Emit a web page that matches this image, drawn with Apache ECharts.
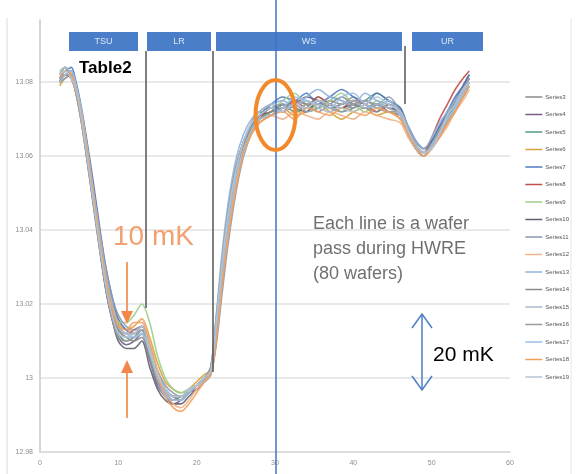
<!DOCTYPE html>
<html><head><meta charset="utf-8">
<script src="https://cdn.jsdelivr.net/npm/echarts@6/dist/echarts.min.js"></script>
<style>html,body{margin:0;padding:0;background:#fff}#c{width:580px;height:474px}</style>
</head><body><div id="c"></div>
<script>
// Time axis (x) positions of the samples
const xSamples = [2.5,3.2,4,4.6,5.3,6,6.8,7.6,8.4,9.2,10,11,12,13,14,15,16,17,18,19,20,21,21.8,22.5,23.2,24,25,26,27,28,29.5,31,32.5,34,35.5,37,38.5,40,41.5,43,44.5,46,47,48,49,50,51,52,53,54,54.8];
// Temperature readings, in mK above 13 K (value = 13 K + reading / 1000)
const BASE_K = 13;
const series3  = [80,82,83,79,72,63,52,40,29,20,14,12,12,14,9,2,-3,-5,-6,-4,-2,-1,1,10,24,39,53,62,67,70,72,73,75,74,73,75,74,76,74,73,75,71,66,62,61,63,66,70,73,77,80];
const series4  = [82,84,81,77,69,59,47,35,24,16,11,9,10,12,5,-2,-5,-7,-6,-4,-3,-1,1,12,27,41,54,62,67,71,73,72,74,76,75,73,74,75,73,74,72,71,68,64,62,64,68,71,75,79,82];
const series5  = [81,83,82,78,70,60,48,36,25,17,12,10,11,13,6,0,-4,-6,-5,-4,-2,0,3,16,31,45,57,64,69,72,71,74,72,73,76,74,72,73,75,77,75,73,67,63,61,64,67,72,75,78,80];
const series6  = [79,81,82,78,71,62,51,39,28,20,15,13,14,16,11,4,-1,-3,-4,-3,-1,1,2,11,26,40,53,62,66,69,71,73,71,72,74,72,70,72,73,71,72,70,66,62,60,63,65,69,72,76,79];
const series7  = [82,83,84,80,73,64,53,41,30,22,16,13,12,13,8,1,-3,-5,-5,-3,-2,0,2,13,29,43,56,64,68,71,74,76,75,77,74,76,78,76,74,77,75,73,68,64,62,64,68,72,76,79,82];
const series8  = [80,82,81,77,70,61,50,38,27,19,14,12,13,14,8,1,-3,-5,-5,-4,-2,0,2,14,29,43,56,63,67,70,73,72,75,73,76,74,73,75,74,72,74,71,67,63,61,65,70,74,78,81,83];
const series9  = [83,84,82,79,72,62,50,38,27,19,15,15,17,20,15,6,0,-3,-4,-3,-2,0,2,12,27,41,54,62,67,70,72,75,77,74,73,75,77,74,72,75,73,72,67,62,61,63,67,71,74,77,80];
const series10 = [81,82,83,78,70,60,48,36,24,16,10,8,8,10,3,-3,-6,-7,-7,-5,-3,-1,1,15,30,44,56,63,68,71,72,74,73,72,75,74,73,74,73,74,73,72,66,62,60,63,66,70,74,78,81];
const series11 = [80,81,82,78,71,62,51,40,30,22,17,14,13,14,9,2,-2,-4,-5,-4,-2,-1,1,9,22,36,50,60,66,69,71,73,74,72,73,76,75,73,75,74,76,72,66,62,61,62,66,69,73,76,79];
const series12 = [82,83,81,77,69,60,49,37,26,18,13,12,14,16,10,2,-4,-7,-8,-6,-3,-1,1,11,25,39,52,61,66,69,71,70,72,71,70,72,71,70,72,71,70,69,65,62,60,62,65,68,72,75,78];
const series13 = [81,82,83,79,72,62,50,38,27,19,13,11,11,12,6,-1,-5,-6,-6,-4,-2,0,3,17,33,47,59,66,70,72,74,75,73,76,78,76,75,74,77,75,74,72,68,64,62,65,69,72,75,78,81];
const series14 = [80,83,82,78,70,61,49,37,26,18,13,11,10,11,5,-1,-4,-6,-6,-4,-2,0,2,13,28,42,55,63,68,70,72,73,75,74,72,74,76,74,73,72,74,72,67,62,60,63,66,70,74,77,80];
const series15 = [82,84,82,78,71,61,49,37,27,19,14,12,12,13,7,1,-3,-5,-5,-4,-2,0,2,14,29,44,56,64,69,72,74,73,74,75,73,72,74,75,73,74,73,71,66,62,61,63,67,70,73,77,79];
const series16 = [81,82,82,77,69,59,47,35,24,16,11,10,11,13,7,0,-4,-6,-6,-4,-2,0,3,16,31,45,57,64,68,71,73,74,72,74,75,73,72,74,75,73,72,72,67,63,61,63,67,71,74,78,81];
const series17 = [80,82,83,79,72,63,51,39,28,20,14,12,11,12,7,0,-4,-6,-6,-4,-2,-1,1,12,27,41,54,62,67,70,71,73,76,75,74,73,76,77,74,73,75,71,66,62,60,63,66,70,73,77,80];
const series18 = [81,83,82,78,71,62,50,38,27,19,14,13,15,15,9,1,-5,-8,-9,-7,-4,-1,1,10,24,38,51,61,66,69,71,72,70,73,72,71,73,72,71,73,72,70,66,62,60,62,65,69,72,76,79];
const series19 = [82,83,81,78,70,60,48,36,25,17,12,11,12,14,8,1,-3,-5,-5,-3,-2,0,2,15,30,44,56,64,69,71,73,72,74,73,75,74,73,72,74,76,74,72,67,63,61,62,66,71,74,78,80];

const seriesNames = ['Series3','Series4','Series5','Series6','Series7','Series8','Series9','Series10','Series11','Series12','Series13','Series14','Series15','Series16','Series17','Series18','Series19'];
const seriesData = [series3,series4,series5,series6,series7,series8,series9,series10,series11,series12,series13,series14,series15,series16,series17,series18,series19];
const seriesColors = ['#8c8c8c','#7a5c86','#4f9a86','#d8a23a','#4f78c0','#c0504d','#9bcf8a','#5f5f70','#8a9ab0','#f0b38a','#8fb4dc','#8c8c8c','#a9b8c8','#9a9a9a','#9cc0e4','#f29f5c','#b5c5d5'];

const xTicks = {min: 0, max: 60, interval: 10};
const yTicks = {min: 12.98, max: 13.0968, interval: 0.02};
const phaseNames = ['TSU','LR','WS','UR'];

const chart = echarts.init(document.getElementById('c'), null, {renderer: 'canvas'});

const series = seriesData.map((arr, i) => ({
  name: seriesNames[i],
  type: 'line',
  data: arr.map((v, j) => [xSamples[j], BASE_K + v / 1000]),
  symbol: 'none',
  smooth: 0.3,
  lineStyle: {width: 1.6, color: seriesColors[i], opacity: 0.9},
  itemStyle: {color: seriesColors[i]},
  z: 2
}));

const phaseRects = [[69,138],[147,211],[216,402],[412,483]];
const graphics = [];
// outer frame lines
graphics.push({type:'line', shape:{x1:7,y1:18,x2:7,y2:474}, style:{stroke:'#d9d9d9', lineWidth:1}, z:1});
graphics.push({type:'line', shape:{x1:571,y1:18,x2:571,y2:474}, style:{stroke:'#e6e6e6', lineWidth:1}, z:1});
phaseNames.forEach((n, i) => {
  const [a, b] = phaseRects[i];
  graphics.push({type:'rect', shape:{x:a, y:32, width:b-a, height:19}, style:{fill:'#4a7ec8'}, z:10});
  graphics.push({type:'text', x:(a+b)/2, y:41.5, style:{text:n, fill:'#dce6f4', font:'9px "Liberation Sans"', align:'center', verticalAlign:'middle'}, z:11});
});
// phase separators
graphics.push({type:'line', shape:{x1:146,y1:51,x2:146,y2:308}, style:{stroke:'#555', lineWidth:1.5}, z:9});
graphics.push({type:'line', shape:{x1:213,y1:51,x2:213,y2:372}, style:{stroke:'#555', lineWidth:1.5}, z:9});
graphics.push({type:'line', shape:{x1:405,y1:46,x2:405,y2:104}, style:{stroke:'#555', lineWidth:1.5}, z:9});
// Table2
graphics.push({type:'text', x:79, y:68, style:{text:'Table2', fill:'#000', font:'bold 17px "Liberation Sans"', verticalAlign:'middle'}, z:12});
// blue vertical line
graphics.push({type:'line', shape:{x1:276,y1:0,x2:276,y2:474}, style:{stroke:'#4472c4', lineWidth:1.5}, z:12});
// orange ellipse
graphics.push({type:'ellipse', shape:{cx:275.5, cy:115, rx:20, ry:35}, style:{fill:'none', stroke:'#f28a2c', lineWidth:4}, z:13});
// 10 mK
graphics.push({type:'text', x:113, y:237, style:{text:'10 mK', fill:'#f2a070', font:'28px "Liberation Sans"', verticalAlign:'middle'}, z:12});
// orange arrows
graphics.push({type:'line', shape:{x1:127,y1:262,x2:127,y2:314}, style:{stroke:'#f39a66', lineWidth:2}, z:12});
graphics.push({type:'polygon', shape:{points:[[121,311],[133,311],[127,324]]}, style:{fill:'#f3874b'}, z:12});
graphics.push({type:'line', shape:{x1:127,y1:418,x2:127,y2:370}, style:{stroke:'#f39a66', lineWidth:2}, z:12});
graphics.push({type:'polygon', shape:{points:[[121,373],[133,373],[127,360]]}, style:{fill:'#f3874b'}, z:12});
// explanatory text
graphics.push({type:'text', x:313, y:212, style:{text:'Each line is a wafer\npass during HWRE\n(80 wafers)', fill:'#707070', font:'18px "Liberation Sans"', lineHeight:25}, z:12});
// blue double arrow
graphics.push({type:'line', shape:{x1:422,y1:314,x2:422,y2:390}, style:{stroke:'#4a7ec8', lineWidth:1.5}, z:12});
graphics.push({type:'polyline', shape:{points:[[412,328],[422,314],[432,328]]}, style:{stroke:'#4a7ec8', lineWidth:1.5, fill:'none'}, z:12});
graphics.push({type:'polyline', shape:{points:[[412,376],[422,390],[432,376]]}, style:{stroke:'#4a7ec8', lineWidth:1.5, fill:'none'}, z:12});
graphics.push({type:'text', x:433, y:355, style:{text:'20 mK', fill:'#000', font:'21px "Liberation Sans"', verticalAlign:'middle'}, z:12});

chart.setOption({
  animation: false,
  backgroundColor: '#ffffff',
  grid: {left: 40, right: 70, top: 20, bottom: 22, containLabel: false},
  xAxis: {
    type: 'value', min: xTicks.min, max: xTicks.max, interval: xTicks.interval,
    axisLine: {show: true, lineStyle: {color: '#d9d9d9', width: 1.5}},
    axisTick: {show: false},
    splitLine: {show: false},
    axisLabel: {color: '#8c8c8c', fontSize: 7, margin: 8, fontFamily: 'Liberation Sans'}
  },
  yAxis: {
    type: 'value', min: yTicks.min, max: yTicks.max, interval: yTicks.interval,
    axisLine: {show: true, lineStyle: {color: '#c8c8c8', width: 1.5}},
    axisTick: {show: false},
    splitLine: {show: true, showMaxLine: false, lineStyle: {color: '#e2e2e2', width: 1.5}},
    axisLabel: {color: '#8c8c8c', fontSize: 7, margin: 7, showMaxLabel: false, fontFamily: 'Liberation Sans',
      formatter: v => String(parseFloat(v.toFixed(2)))}
  },
  legend: {
    orient: 'vertical', right: 6, top: 89,
    itemWidth: 17, itemHeight: 8, itemGap: 11.5,
    icon: 'rect',
    data: seriesNames.map((n, i) => ({name: n, icon: 'path://M0,4L17,4L17,5.5L0,5.5Z'})),
    textStyle: {fontSize: 6, color: '#555', padding: [0,0,0,-2]}
  },
  series: series,
  graphic: graphics
});
</script>
</body></html>
